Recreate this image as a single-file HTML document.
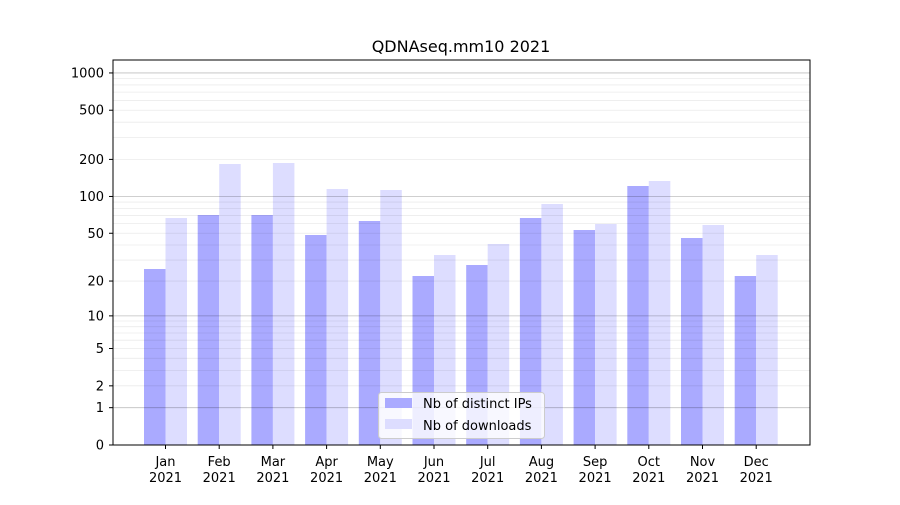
<!DOCTYPE html>
<html><head><meta charset="utf-8"><style>
html,body{margin:0;padding:0;background:#fff;}
svg text{font-family:"DejaVu Sans","Liberation Sans",sans-serif;font-size:13px;fill:#000;}
</style></head><body>
<svg width="900" height="500" xmlns="http://www.w3.org/2000/svg">
<rect width="900" height="500" fill="#fff"/>
<g id="bars"></g>
<g id="grid"></g>
<rect x="113" y="60" width="697" height="385" fill="none" stroke="#000" stroke-width="1"/>
<g id="ticks"></g>
<text x="461" y="52" text-anchor="middle" style="font-size:16px">QDNAseq.mm10 2021</text>
<g>
<rect x="378.5" y="392.5" width="166" height="46" rx="3" fill="#fff" fill-opacity="0.8" stroke="#ccc"/>
<rect x="385" y="398" width="27" height="10" fill="#aaaaff"/>
<text x="423" y="408">Nb of distinct IPs</text>
<rect x="385" y="419" width="27" height="10" fill="#ddddff"/>
<text x="423" y="430">Nb of downloads</text>
</g>
</svg>
<script>
const ns="http://www.w3.org/2000/svg";
function el(p,t,a,txt){const e=document.createElementNS(ns,t);for(const k in a)e.setAttribute(k,a[k]);if(txt!==undefined)e.textContent=txt;p.appendChild(e);return e;}
const Y=v=>445-124*Math.log10(1+v);
const g=document.getElementById('grid'),b=document.getElementById('bars'),tk=document.getElementById('ticks');
[1,10,100].forEach(d=>{for(let i=2;i<=9;i++){const y=Y(i*d);el(g,'line',{x1:113,x2:810,y1:y,y2:y,stroke:'#000','stroke-opacity':0.08,'stroke-width':0.8});}});
[1,10,100,1000].forEach(v=>{const y=Y(v);el(g,'line',{x1:113,x2:810,y1:y,y2:y,stroke:'#000','stroke-opacity':0.25,'stroke-width':0.8});});
[0,1,2,5,10,20,50,100,200,500,1000].forEach(v=>{const y=Y(v);el(tk,'line',{x1:109,x2:113,y1:y,y2:y,stroke:'#000'});el(tk,'text',{x:104,y:y+4.5,'text-anchor':'end'},v);});
const m=['Jan','Feb','Mar','Apr','May','Jun','Jul','Aug','Sep','Oct','Nov','Dec'];
const ip=[269,215,215,235,221,276,265,218,230,186,238,276];
const dl=[218,164,163,189,190,255,244,204,224,181,225,255];
m.forEach((n,i)=>{const c=165.5+i*53.7;
el(b,'rect',{x:c-21.5,y:ip[i],width:21.5,height:445-ip[i],fill:'#aaaaff'});
el(b,'rect',{x:c,y:dl[i],width:21.5,height:445-dl[i],fill:'#ddddff'});
el(tk,'line',{x1:c,x2:c,y1:445,y2:449,stroke:'#000'});
el(tk,'text',{x:c,y:466,'text-anchor':'middle'},n);
el(tk,'text',{x:c,y:482,'text-anchor':'middle'},'2021');});
</script>
</body></html>
